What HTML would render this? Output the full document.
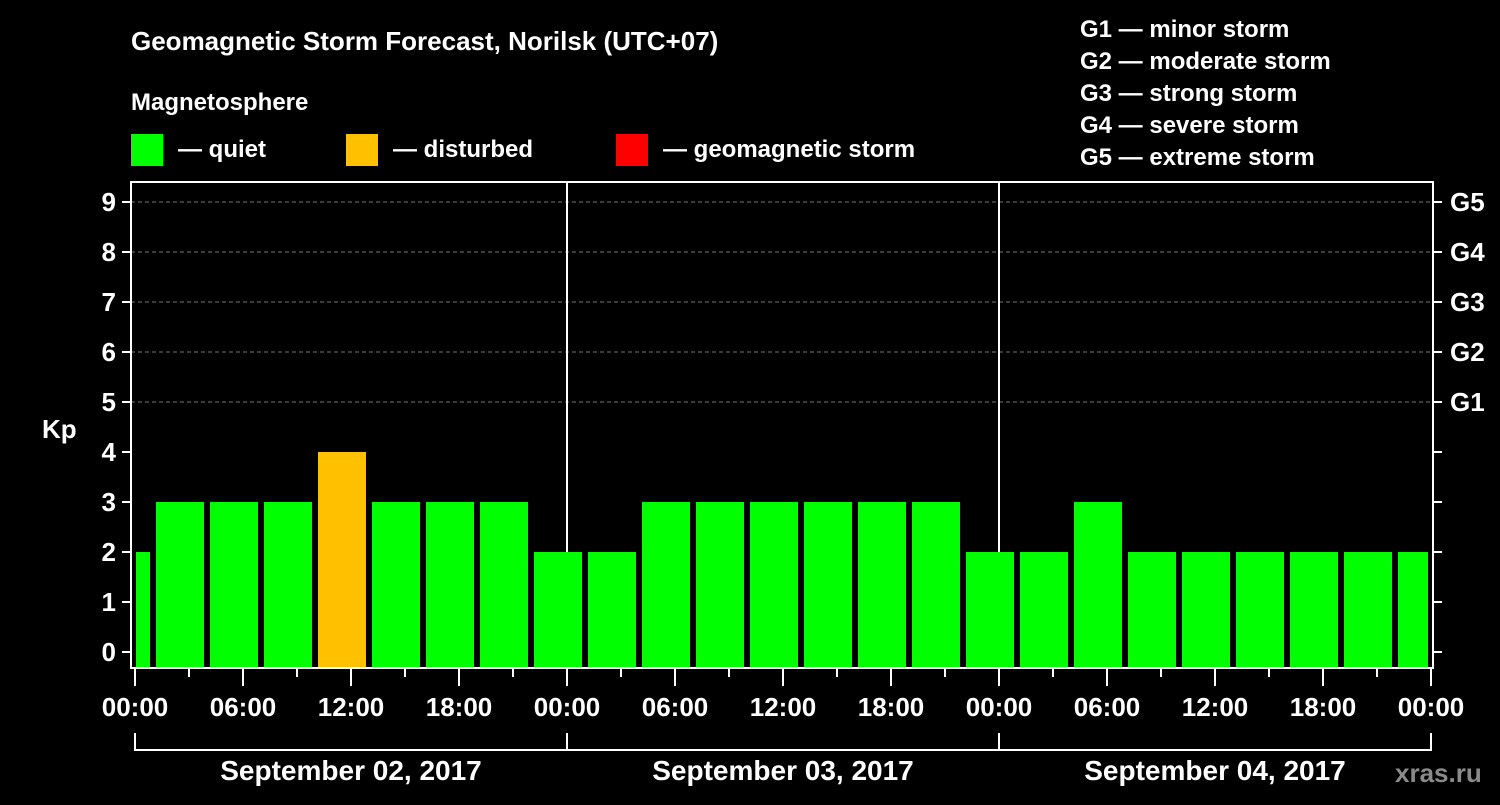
<!DOCTYPE html>
<html><head><meta charset="utf-8"><style>
body{margin:0;background:#000;width:1500px;height:800px;overflow:hidden}
svg text{font-family:"Liberation Sans",sans-serif;font-weight:bold;fill:#fff}
</style></head><body>
<svg id="c" width="1500" height="800" xmlns="http://www.w3.org/2000/svg">
<rect width="1500" height="800" fill="#000"/>
<text x="131" y="50" font-size="26">Geomagnetic Storm Forecast, Norilsk (UTC+07)</text>
<text x="131" y="110" font-size="24">Magnetosphere</text>
<g font-size="24">
<rect x="131" y="134" width="32" height="32" fill="#00ff00"/><text x="178" y="157">— quiet</text>
<rect x="346" y="134" width="32" height="32" fill="#ffc000"/><text x="393" y="157">— disturbed</text>
<rect x="616" y="134" width="32" height="32" fill="#ff0000"/><text x="663" y="157">— geomagnetic storm</text>
</g>
<g font-size="24">
<text x="1080" y="37">G1 — minor storm</text>
<text x="1080" y="69">G2 — moderate storm</text>
<text x="1080" y="101">G3 — strong storm</text>
<text x="1080" y="133">G4 — severe storm</text>
<text x="1080" y="165">G5 — extreme storm</text>
</g>
<text x="42" y="438" font-size="26">Kp</text>
<g id="grid"></g><g id="bars"></g><g id="axes"></g>
<text x="1395" y="782" font-size="26" fill="#888" style="fill:#8a8a8a">xras.ru</text>
</svg>
<script>
const kpValues=[2,3,3,3,4,3,3,3,2,2,3,3,3,3,3,3,2,2,3,2,2,2,2,2,2];
const yTicks=[0,1,2,3,4,5,6,7,8,9];
const gLabels=["G1","G2","G3","G4","G5"];
const timeLabels=["00:00","06:00","12:00","18:00","00:00","06:00","12:00","18:00","00:00","06:00","12:00","18:00","00:00"];
const dayLabels=["September 02, 2017","September 03, 2017","September 04, 2017"];
const NS="http://www.w3.org/2000/svg";
const X0=135,HOUR=18,Y0=652,UNIT=50,L=131,R=1433,T=182,B=668;
const xs=h=>X0+h*HOUR, ys=v=>Y0-v*UNIT;
function mk(tag,at,parent){const e=document.createElementNS(NS,tag);for(const k in at)e.setAttribute(k,at[k]);parent.appendChild(e);return e;}
const grid=document.getElementById('grid'),bars=document.getElementById('bars'),axes=document.getElementById('axes');
for(let v=5;v<=9;v++){const l=mk('line',{x1:L,x2:R,y1:ys(v),y2:ys(v),stroke:'#777','stroke-dasharray':'4,3','stroke-width':1},grid);
}
for(let d=1;d<3;d++){const l=mk('line',{x1:xs(24*d),x2:xs(24*d),y1:T,y2:B,stroke:'#fff','stroke-width':2},grid);
}
kpValues.forEach((v,k)=>{let a=xs(3*k)-33,b=xs(3*k)+15;a=Math.max(a,136);b=Math.min(b,1428);
const col=v>=5?'#ff0000':(v>=4?'#ffc000':'#00ff00');
const r=mk('rect',{x:a,y:ys(v),width:b-a,height:B-1-ys(v),fill:col},bars);
});
mk('rect',{x:L,y:T,width:R-L,height:B-T,fill:'none',stroke:'#fff','stroke-width':2},axes);
yTicks.forEach(v=>{mk('line',{x1:122,x2:L,y1:ys(v),y2:ys(v),stroke:'#fff','stroke-width':2},axes);
mk('line',{x1:R,x2:1442,y1:ys(v),y2:ys(v),stroke:'#fff','stroke-width':2},axes);
const t=mk('text',{x:116,y:ys(v)+9,'font-size':26,'text-anchor':'end'},axes);t.textContent=v;
});
gLabels.forEach((g,i)=>{const t=mk('text',{x:1450,y:ys(5+i)+9,'font-size':26},axes);t.textContent=g;
});
for(let h=0;h<=72;h+=3){mk('line',{x1:xs(h),x2:xs(h),y1:B,y2:B+(h%6==0?18:9),stroke:'#fff','stroke-width':2},axes);}
timeLabels.forEach((s,i)=>{const t=mk('text',{x:xs(6*i),y:716,'font-size':26,'text-anchor':'middle'},axes);t.textContent=s;
});
mk('path',{d:`M${xs(0)} 733V750H${xs(72)}V733M${xs(24)} 733V750M${xs(48)} 733V750`,stroke:'#fff','stroke-width':2,fill:'none'},axes);
dayLabels.forEach((s,i)=>{const t=mk('text',{x:xs(24*i+12),y:780,'font-size':28,'text-anchor':'middle'},axes);t.textContent=s;
});
</script>
</body></html>
